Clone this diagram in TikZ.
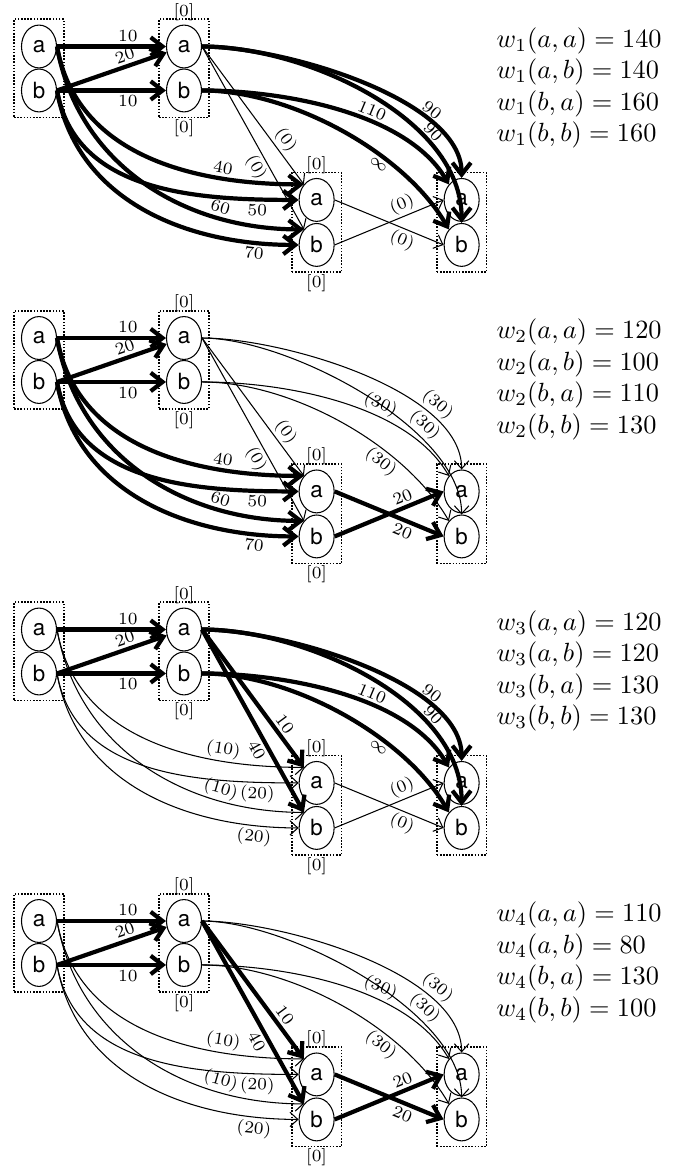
\documentclass[tikz,border=0pt]{standalone}
\usepackage{fontspec}
\setsansfont{TeX Gyre Heros}
\usetikzlibrary{arrows.meta,positioning,fit,shapes.geometric}

\begin{document}
\begin{tikzpicture}[
x=3.8pt, y=3.8pt,
node distance=16.7pt and 55.1pt, on grid,
vertex/.style={draw, ellipse, inner sep=0pt, minimum width=13.3pt, minimum height=16.3pt, font=\sffamily\fontsize{8.5}{10}\selectfont},
layerbox/.style={draw, line width=0.6pt, dash pattern=on 0.6pt off 0.6pt, inner xsep=2.6pt, inner ysep=2pt},
cut/.style={font=\fontsize{6.5}{7}\selectfont, inner sep=0.3pt},
wt/.style={font=\fontsize{6.5}{7}\selectfont, sloped, inner sep=1pt},
heavy/.style={-{Straight Barb[length=4.5pt, width=7pt]}, line width=1.6pt},
light/.style={-{Straight Barb[length=3pt, width=5.5pt]}, thin},
weights/.style={anchor=west, align=left, inner sep=0pt}
]
\useasboundingbox (0,0) rectangle (69,-116.6);

% --- Panel 1 ---
\node[vertex] (p1a1) at (3.9,-4.65) {a};
\node[vertex, below=of p1a1] (p1b1) {b};
\node[vertex, right=of p1a1] (p1a2) {a};
\node[vertex, below=of p1a2] (p1b2) {b};
\node[vertex, below right=58.3pt and 50.4pt of p1a2] (p1a3) {a};
\node[vertex, below=17.1pt of p1a3] (p1b3) {b};
\node[vertex, right=of p1a3] (p1a4) {a};
\node[vertex, below=17.1pt of p1a4] (p1b4) {b};

\node[layerbox, fit=(p1a1)(p1b1)] (p1g1) {};
\node[layerbox, fit=(p1a2)(p1b2), label={[cut, label distance=-1.2pt]above:{[0]}}, label={[cut]below:{[0]}}] (p1g2) {};
\node[layerbox, fit=(p1a3)(p1b3), label={[cut, label distance=-1.2pt]above:{[0]}}, label={[cut]below:{[0]}}] (p1g3) {};
\node[layerbox, fit=(p1a4)(p1b4)] (p1g4) {};

\draw[heavy] (p1a1.east) -- node[wt, pos=0.65, above] {10} (p1a2.west);
\draw[heavy] (p1b1.east) -- node[wt, pos=0.65, above] {20} (p1a2);
\draw[heavy] (p1b1.east) -- node[wt, pos=0.65, below] {10} (p1b2.west);

\draw[heavy] (p1a1.east) to[out=-80, in=180] node[wt, pos=0.75, above] {40} (p1a3.north west);
\draw[heavy] (p1b1.east) to[out=-80, in=180] node[wt, pos=0.87, below] {50} (p1a3.west);
\draw[heavy] (p1a1.east) to[out=-80, in=180] node[wt, pos=0.75, above] {60} (p1b3.north west);
\draw[heavy] (p1b1.east) to[out=-80, in=180] node[wt, pos=0.87, below] {70} (p1b3.west);

\draw[light] (p1a2.east) -- node[wt, pos=0.73, above] {(0)} (p1a3.north west);
\draw[light] (p1a2.east) -- node[wt, pos=0.63, below] {(0)} (p1b3.north west);

\draw[heavy] (p1a2.east) to[out=0, in=90, looseness=0.7] node[wt, pos=0.72, above] {90} (p1a4.north);
\draw[heavy] (p1a2.east) to[out=0, in=90, looseness=0.85] node[wt, pos=0.7, above] {90} (p1b4.north);
\draw[heavy] (p1b2.east) to[out=0, in=120, looseness=0.8] node[wt, pos=0.6, above] {110} (p1a4.north west);
\draw[heavy] (p1b2.east) to[out=0, in=120, looseness=0.8] node[wt, pos=0.66, below] {$\infty$} (p1b4.north west);

\draw[light] (p1a3.east) -- node[wt, pos=0.66, below] {(0)} (p1b4.west);
\draw[light] (p1b3.east) -- node[wt, pos=0.66, above] {(0)} (p1a4.west);

\node[weights] (p1w) at (49.6,-8.8) {$w_1(a,a) = 140$\\$w_1(a,b) = 140$\\$w_1(b,a) = 160$\\$w_1(b,b) = 160$};

% --- Panel 2 ---
\node[vertex] (p2a1) at (3.9,-33.8) {a};
\node[vertex, below=of p2a1] (p2b1) {b};
\node[vertex, right=of p2a1] (p2a2) {a};
\node[vertex, below=of p2a2] (p2b2) {b};
\node[vertex, below right=58.3pt and 50.4pt of p2a2] (p2a3) {a};
\node[vertex, below=17.1pt of p2a3] (p2b3) {b};
\node[vertex, right=of p2a3] (p2a4) {a};
\node[vertex, below=17.1pt of p2a4] (p2b4) {b};

\node[layerbox, fit=(p2a1)(p2b1)] (p2g1) {};
\node[layerbox, fit=(p2a2)(p2b2), label={[cut, label distance=-1.2pt]above:{[0]}}, label={[cut]below:{[0]}}] (p2g2) {};
\node[layerbox, fit=(p2a3)(p2b3), label={[cut, label distance=-1.2pt]above:{[0]}}, label={[cut]below:{[0]}}] (p2g3) {};
\node[layerbox, fit=(p2a4)(p2b4)] (p2g4) {};

\draw[heavy] (p2a1.east) -- node[wt, pos=0.65, above] {10} (p2a2.west);
\draw[heavy] (p2b1.east) -- node[wt, pos=0.65, above] {20} (p2a2);
\draw[heavy] (p2b1.east) -- node[wt, pos=0.65, below] {10} (p2b2.west);

\draw[heavy] (p2a1.east) to[out=-80, in=180] node[wt, pos=0.75, above] {40} (p2a3.north west);
\draw[heavy] (p2b1.east) to[out=-80, in=180] node[wt, pos=0.87, below] {50} (p2a3.west);
\draw[heavy] (p2a1.east) to[out=-80, in=180] node[wt, pos=0.75, above] {60} (p2b3.north west);
\draw[heavy] (p2b1.east) to[out=-80, in=180] node[wt, pos=0.87, below] {70} (p2b3.west);

\draw[light] (p2a2.east) -- node[wt, pos=0.73, above] {(0)} (p2a3.north west);
\draw[light] (p2a2.east) -- node[wt, pos=0.63, below] {(0)} (p2b3.north west);

\draw[light] (p2a2.east) to[out=0, in=90, looseness=0.7] node[wt, pos=0.74, above] {(30)} (p2a4.north);
\draw[light] (p2a2.east) to[out=0, in=90, looseness=0.7] node[wt, pos=0.68, above] {(30)} (p2b4.north);
\draw[light] (p2b2.east) to[out=0, in=120, looseness=0.8] node[wt, pos=0.63, above] {(30)} (p2a4.north west);
\draw[light] (p2b2.east) to[out=0, in=120, looseness=0.8] node[wt, pos=0.68, below] {(30)} (p2b4.north west);

\draw[heavy] (p2a3.east) -- node[wt, pos=0.66, below] {20} (p2b4.west);
\draw[heavy] (p2b3.east) -- node[wt, pos=0.66, above] {20} (p2a4.west);

\node[weights] (p2w) at (49.6,-37.95) {$w_2(a,a) = 120$\\$w_2(a,b) = 100$\\$w_2(b,a) = 110$\\$w_2(b,b) = 130$};

% --- Panel 3 ---
\node[vertex] (p3a1) at (3.9,-62.95) {a};
\node[vertex, below=of p3a1] (p3b1) {b};
\node[vertex, right=of p3a1] (p3a2) {a};
\node[vertex, below=of p3a2] (p3b2) {b};
\node[vertex, below right=58.3pt and 50.4pt of p3a2] (p3a3) {a};
\node[vertex, below=17.1pt of p3a3] (p3b3) {b};
\node[vertex, right=of p3a3] (p3a4) {a};
\node[vertex, below=17.1pt of p3a4] (p3b4) {b};

\node[layerbox, fit=(p3a1)(p3b1)] (p3g1) {};
\node[layerbox, fit=(p3a2)(p3b2), label={[cut, label distance=-1.2pt]above:{[0]}}, label={[cut]below:{[0]}}] (p3g2) {};
\node[layerbox, fit=(p3a3)(p3b3), label={[cut, label distance=-1.2pt]above:{[0]}}, label={[cut]below:{[0]}}] (p3g3) {};
\node[layerbox, fit=(p3a4)(p3b4)] (p3g4) {};

\draw[heavy] (p3a1.east) -- node[wt, pos=0.65, above] {10} (p3a2.west);
\draw[heavy] (p3b1.east) -- node[wt, pos=0.65, above] {20} (p3a2);
\draw[heavy] (p3b1.east) -- node[wt, pos=0.65, below] {10} (p3b2.west);

\draw[light] (p3a1.east) to[out=-80, in=180] node[wt, pos=0.75, above] {(10)} (p3a3.north west);
\draw[light] (p3b1.east) to[out=-80, in=180] node[wt, pos=0.87, below] {(20)} (p3a3.west);
\draw[light] (p3a1.east) to[out=-80, in=180] node[wt, pos=0.75, above] {(10)} (p3b3.north west);
\draw[light] (p3b1.east) to[out=-80, in=180] node[wt, pos=0.87, below] {(20)} (p3b3.west);

\draw[heavy] (p3a2.east) -- node[wt, pos=0.73, above] {10} (p3a3.north west);
\draw[heavy] (p3a2.east) -- node[wt, pos=0.63, below] {40} (p3b3.north west);

\draw[heavy] (p3a2.east) to[out=0, in=90, looseness=0.7] node[wt, pos=0.72, above] {90} (p3a4.north);
\draw[heavy] (p3a2.east) to[out=0, in=90, looseness=0.85] node[wt, pos=0.7, above] {90} (p3b4.north);
\draw[heavy] (p3b2.east) to[out=0, in=120, looseness=0.8] node[wt, pos=0.6, above] {110} (p3a4.north west);
\draw[heavy] (p3b2.east) to[out=0, in=120, looseness=0.8] node[wt, pos=0.66, below] {$\infty$} (p3b4.north west);

\draw[light] (p3a3.east) -- node[wt, pos=0.66, below] {(0)} (p3b4.west);
\draw[light] (p3b3.east) -- node[wt, pos=0.66, above] {(0)} (p3a4.west);

\node[weights] (p3w) at (49.6,-67.1) {$w_3(a,a) = 120$\\$w_3(a,b) = 120$\\$w_3(b,a) = 130$\\$w_3(b,b) = 130$};

% --- Panel 4 ---
\node[vertex] (p4a1) at (3.9,-92.1) {a};
\node[vertex, below=of p4a1] (p4b1) {b};
\node[vertex, right=of p4a1] (p4a2) {a};
\node[vertex, below=of p4a2] (p4b2) {b};
\node[vertex, below right=58.3pt and 50.4pt of p4a2] (p4a3) {a};
\node[vertex, below=17.1pt of p4a3] (p4b3) {b};
\node[vertex, right=of p4a3] (p4a4) {a};
\node[vertex, below=17.1pt of p4a4] (p4b4) {b};

\node[layerbox, fit=(p4a1)(p4b1)] (p4g1) {};
\node[layerbox, fit=(p4a2)(p4b2), label={[cut, label distance=-1.2pt]above:{[0]}}, label={[cut]below:{[0]}}] (p4g2) {};
\node[layerbox, fit=(p4a3)(p4b3), label={[cut, label distance=-1.2pt]above:{[0]}}, label={[cut]below:{[0]}}] (p4g3) {};
\node[layerbox, fit=(p4a4)(p4b4)] (p4g4) {};

\draw[heavy] (p4a1.east) -- node[wt, pos=0.65, above] {10} (p4a2.west);
\draw[heavy] (p4b1.east) -- node[wt, pos=0.65, above] {20} (p4a2);
\draw[heavy] (p4b1.east) -- node[wt, pos=0.65, below] {10} (p4b2.west);

\draw[light] (p4a1.east) to[out=-80, in=180] node[wt, pos=0.75, above] {(10)} (p4a3.north west);
\draw[light] (p4b1.east) to[out=-80, in=180] node[wt, pos=0.87, below] {(20)} (p4a3.west);
\draw[light] (p4a1.east) to[out=-80, in=180] node[wt, pos=0.75, above] {(10)} (p4b3.north west);
\draw[light] (p4b1.east) to[out=-80, in=180] node[wt, pos=0.87, below] {(20)} (p4b3.west);

\draw[heavy] (p4a2.east) -- node[wt, pos=0.73, above] {10} (p4a3.north west);
\draw[heavy] (p4a2.east) -- node[wt, pos=0.63, below] {40} (p4b3.north west);

\draw[light] (p4a2.east) to[out=0, in=90, looseness=0.7] node[wt, pos=0.74, above] {(30)} (p4a4.north);
\draw[light] (p4a2.east) to[out=0, in=90, looseness=0.7] node[wt, pos=0.68, above] {(30)} (p4b4.north);
\draw[light] (p4b2.east) to[out=0, in=120, looseness=0.8] node[wt, pos=0.63, above] {(30)} (p4a4.north west);
\draw[light] (p4b2.east) to[out=0, in=120, looseness=0.8] node[wt, pos=0.68, below] {(30)} (p4b4.north west);

\draw[heavy] (p4a3.east) -- node[wt, pos=0.66, below] {20} (p4b4.west);
\draw[heavy] (p4b3.east) -- node[wt, pos=0.66, above] {20} (p4a4.west);

\node[weights] (p4w) at (49.6,-96.25) {$w_4(a,a) = 110$\\$w_4(a,b) = 80$\\$w_4(b,a) = 130$\\$w_4(b,b) = 100$};

\end{tikzpicture}
\end{document}
